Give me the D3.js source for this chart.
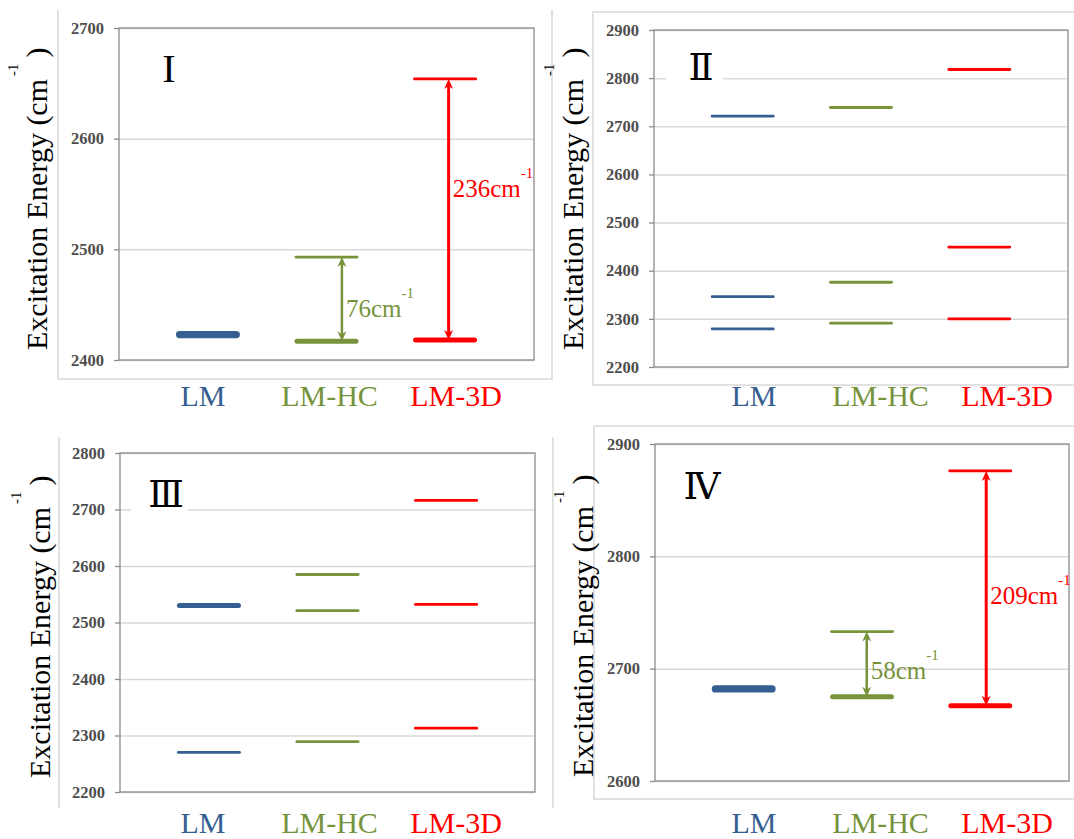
<!DOCTYPE html>
<html>
<head>
<meta charset="utf-8">
<script src="https://cdn.jsdelivr.net/npm/d3@7/dist/d3.min.js"></script>
<style>
    body { margin: 0; background: #fff; }
    svg { display: block; }
</style>
</head>
<body>
<div id="chart-container"></div>
<script>
const categories = ["LM", "LM-HC", "LM-3D"];
const catColors = ["#365F91", "#77933C", "#FF0000"];
const panelLabels = ["I", "Ⅱ", "Ⅲ", "Ⅳ"];
const yDomains = [[2400, 2700], [2200, 2900], [2200, 2800], [2600, 2900]];

// excitation energies (cm-1), one list per category: LM, LM-HC, LM-3D
const levelsI = [[2423], [2417, 2493], [2418, 2654]];
const levelsII = [[2279, 2346, 2721], [2291, 2376, 2739], [2300, 2449, 2818]];
const levelsIII = [[2270, 2530], [2289, 2521, 2585], [2313, 2532, 2716]];
const levelsIV = [[2682], [2675, 2733], [2667, 2876]];

// degeneracy of each level (degenerate levels are drawn thicker)
const degenI = [[3], [2, 1], [2, 1]];
const degenII = [[1, 1, 1], [1, 1, 1], [1, 1, 1]];
const degenIII = [[1, 2], [1, 1, 1], [1, 1, 1]];
const degenIV = [[3], [2, 1], [2, 1]];

// splittings marked with double arrows (category index, lower, upper)
const splitsI = [[1, 2417, 2493], [2, 2418, 2654]];
const splitsIV = [[1, 2675, 2733], [2, 2667, 2876]];

const panels = [
    { levels: levelsI, degen: degenI, splits: splitsI },
    { levels: levelsII, degen: degenII, splits: [] },
    { levels: levelsIII, degen: degenIII, splits: [] },
    { levels: levelsIV, degen: degenIV, splits: splitsIV }
];

// page layout of the four panels
const layout = [
    { x0: 119, x1: 534, y0: 28, y1: 360,
      frame: [[[58, 10], [58, 379], [552, 379], [552, 10]]],
      titleX: 47, titleY: 350, catY: 406, catX0: 203,
      roman: [169, 82], romanBg: false,
      arrowDx: [0.13, 0.03], noteAt: [2439, 2547] },
    { x0: 654, x1: 1068, y0: 30, y1: 367,
      frame: [[[1080, 12], [593, 12], [593, 385], [1080, 385]]],
      titleX: 583, titleY: 350, catY: 406, catX0: 754,
      roman: [701, 80], romanBg: true },
    { x0: 120, x1: 535, y0: 453, y1: 792,
      frame: [[[59, 437], [59, 808]], [[553, 437], [553, 808]]],
      titleX: 50, titleY: 778, catY: 833, catX0: 203,
      roman: [166, 507], romanBg: true },
    { x0: 655, x1: 1069, y0: 444, y1: 781,
      frame: [[[1080, 426], [594, 426], [594, 799], [1080, 799]]],
      titleX: 593, titleY: 777, catY: 833, catX0: 754,
      roman: [702, 499], romanBg: false,
      arrowDx: [0.04, 0.05], noteAt: [2691, 2758] }
];

const SERIF = '"Liberation Serif", "Times New Roman", "DejaVu Serif", serif';
const width = 1074;
const height = 839;

const svg = d3.select("#chart-container")
    .append("svg")
    .attr("width", width)
    .attr("height", height);

function arrowHead(x, y, dir) {
    // dir = -1 points up, +1 points down
    const len = 10, half = 4.5, notch = 3;
    return `M${x},${y} L${x - half},${y - dir * len} L${x},${y - dir * (len - notch)} L${x + half},${y - dir * len} Z`;
}

function drawPanel(p, L, k) {
    const g = svg.append("g");

    const x = d3.scaleLinear()
        .domain([0.25, 3.75])
        .range([L.x0, L.x1]);
    const y = d3.scaleLinear()
        .domain(yDomains[k])
        .range([L.y1, L.y0]);
    const ticks = d3.range(yDomains[k][0], yDomains[k][1] + 1, 100);

    // outer chart frame
    L.frame.forEach(pts => {
        g.append("path")
            .attr("d", d3.line()(pts))
            .attr("fill", "none")
            .attr("stroke", "#d9d9d9")
            .attr("stroke-width", 1.5);
    });

    // gridlines
    g.append("g")
        .attr("transform", `translate(${L.x0},0)`)
        .call(d3.axisLeft(y).tickValues(ticks).tickSize(-(L.x1 - L.x0)).tickFormat(""))
        .call(a => a.select(".domain").remove())
        .selectAll("line")
        .attr("stroke", "#d9d9d9")
        .attr("stroke-width", 1.5);

    // tick marks + labels
    g.append("g")
        .attr("transform", `translate(${L.x0},0)`)
        .call(d3.axisLeft(y).tickValues(ticks).tickSize(5).tickPadding(10).tickFormat(d3.format("d")))
        .call(a => a.select(".domain").remove())
        .call(a => a.selectAll("line").attr("stroke", "#8c8c8c").attr("stroke-width", 1.3))
        .selectAll("text")
        .style("font-family", SERIF)
        .style("font-size", "16.5px")
        .style("font-weight", "bold")
        .attr("fill", "#4d4d4d");

    // plot border
    g.append("rect")
        .attr("x", L.x0)
        .attr("y", L.y0)
        .attr("width", L.x1 - L.x0)
        .attr("height", L.y1 - L.y0)
        .attr("fill", "none")
        .attr("stroke", "#8c8c8c")
        .attr("stroke-width", 1.3);

    // panel numeral
    if (L.romanBg) {
        g.append("rect")
            .attr("x", L.roman[0] - 35)
            .attr("y", L.roman[1] - 32)
            .attr("width", 57)
            .attr("height", 40)
            .attr("fill", "#fff");
    }
    g.append("text")
        .attr("x", L.roman[0])
        .attr("y", L.roman[1])
        .attr("text-anchor", "middle")
        .style("font-family", k === 0 ? SERIF : '"DejaVu Serif", serif')
        .style("font-size", k === 0 ? "40px" : "37px")
        .attr("fill", "#000")
        .text(panelLabels[k]);

    // energy levels
    p.levels.forEach((vals, ci) => {
        vals.forEach((v, j) => {
            const sw = 0.6 + 2.2 * p.degen[ci][j];
            g.append("line")
                .attr("x1", x(ci + 1 - 0.27) + sw / 2)
                .attr("x2", x(ci + 1 + 0.27) - sw / 2)
                .attr("y1", y(v))
                .attr("y2", y(v))
                .attr("stroke", catColors[ci])
                .attr("stroke-width", sw)
                .attr("stroke-linecap", "round");
        });
    });

    // splitting arrows
    p.splits.forEach((s, si) => {
        const [ci, lo, hi] = s;
        const ax = x(ci + 1 + L.arrowDx[si]);
        const col = catColors[ci];
        const sw = ci === 2 ? 3 : 2.5;
        g.append("line")
            .attr("x1", ax)
            .attr("x2", ax)
            .attr("y1", y(lo) - 6)
            .attr("y2", y(hi) + 6)
            .attr("stroke", col)
            .attr("stroke-width", sw);
        g.append("path")
            .attr("d", arrowHead(ax, y(hi), -1) + arrowHead(ax, y(lo), 1))
            .attr("fill", col);

        const note = g.append("text")
            .attr("x", ax + 4)
            .attr("y", y(L.noteAt[si]))
            .style("font-family", SERIF)
            .style("font-size", "25px")
            .attr("fill", col);
        note.append("tspan").text(d3.format("d")(hi - lo) + "cm");
        note.append("tspan")
            .style("font-size", "15px")
            .attr("dy", -19)
            .text("-1");
    });

    // y axis title
    const t = g.append("text")
        .attr("transform", `translate(${L.titleX},${L.titleY}) rotate(-90)`)
        .style("font-family", SERIF)
        .style("font-size", "30px")
        .attr("fill", "#000");
    t.append("tspan").text("Excitation Energy (cm");
    t.append("tspan").style("font-size", "15px").attr("dy", -29).attr("dx", 3).text("-1");
    t.append("tspan").attr("dy", 29).attr("dx", 6).text(")");

    // category labels
    const cx = d3.scalePoint()
        .domain(categories)
        .range([L.catX0, L.catX0 + 253]);
    g.selectAll(".cat")
        .data(categories)
        .enter()
        .append("text")
        .attr("class", "cat")
        .attr("x", d => cx(d))
        .attr("y", L.catY)
        .attr("text-anchor", "middle")
        .style("font-family", SERIF)
        .style("font-size", "30px")
        .attr("fill", (d, i) => catColors[i])
        .text(d => d);
}

panels.forEach((p, k) => drawPanel(p, layout[k], k));
</script>
</body>
</html>
